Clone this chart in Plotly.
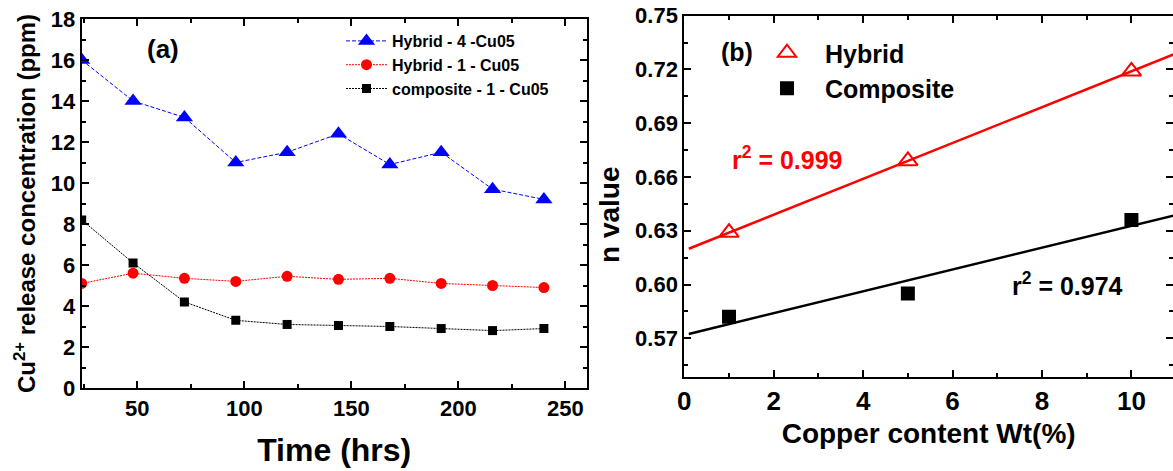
import numpy as np
import plotly.graph_objects as go

# ---------- Data ----------
time_hrs = [24, 48, 72, 96, 120, 144, 168, 192, 216, 240]
hybrid4 = [16.0, 14.0, 13.2, 11.0, 11.5, 12.4, 10.9, 11.5, 9.7, 9.2]
hybrid1 = [5.1, 5.6, 5.35, 5.2, 5.45, 5.3, 5.35, 5.1, 5.0, 4.9]
composite1 = [8.2, 6.1, 4.2, 3.3, 3.1, 3.05, 3.0, 2.9, 2.8, 2.9]

cu_content = [1, 5, 10]
n_hybrid = [0.629, 0.669, 0.719]
n_composite = [0.582, 0.595, 0.636]
fit_x = [0.1, 11.0]

W, H = 1173, 471
FONT = "Liberation Sans, Arial, sans-serif"

def px_x(p):
    return p / W

def px_y(p):
    return 1 - p / H

fig = go.Figure()

# ---------- Panel (a) ----------
fig.add_trace(go.Scatter(
    x=time_hrs, y=hybrid4, mode="lines+markers", name="Hybrid - 4 -Cu05",
    line=dict(color="#0000ff", width=1, dash="4px,2px"),
    marker=dict(symbol="triangle-up", size=15, color="#0000ff"),
    xaxis="x", yaxis="y", legend="legend"))
fig.add_trace(go.Scatter(
    x=time_hrs, y=hybrid1, mode="lines+markers", name="Hybrid - 1 - Cu05",
    line=dict(color="#ff0000", width=1, dash="2px,1px"),
    marker=dict(symbol="circle", size=11, color="#ff0000"),
    xaxis="x", yaxis="y", legend="legend"))
fig.add_trace(go.Scatter(
    x=time_hrs, y=composite1, mode="lines+markers", name="composite - 1 - Cu05",
    line=dict(color="#000000", width=1, dash="2px,1px"),
    marker=dict(symbol="square", size=9, color="#000000"),
    xaxis="x", yaxis="y", legend="legend"))

# ---------- Panel (b) ----------
ph = np.polyfit(cu_content, n_hybrid, 1)
pc = np.polyfit(cu_content, n_composite, 1)
fx = np.array(fit_x)

fig.add_trace(go.Scatter(
    x=fx, y=np.polyval(ph, fx), mode="lines", showlegend=False,
    line=dict(color="#ff0000", width=2.5), xaxis="x2", yaxis="y2"))
fig.add_trace(go.Scatter(
    x=fx, y=np.polyval(pc, fx), mode="lines", showlegend=False,
    line=dict(color="#000000", width=2.5), xaxis="x2", yaxis="y2"))
fig.add_trace(go.Scatter(
    x=cu_content, y=n_hybrid, mode="markers", name="Hybrid",
    marker=dict(symbol="triangle-up-open", size=17, color="#ff0000",
                line=dict(width=2, color="#ff0000")),
    xaxis="x2", yaxis="y2", legend="legend2", legendgroup="h"))
fig.add_trace(go.Scatter(
    x=cu_content, y=n_composite, mode="markers", name="Composite",
    marker=dict(symbol="square", size=14, color="#000000"),
    xaxis="x2", yaxis="y2", legend="legend2", legendgroup="c"))

axis_common = dict(
    showline=True, linecolor="black", linewidth=2, mirror="ticks",
    ticks="inside", ticklen=7, tickwidth=1.5, tickcolor="black",
    showgrid=False, zeroline=False, automargin=False,
)

def minor(dtick, tick0):
    return dict(ticks="inside", ticklen=4, dtick=dtick, tick0=tick0,
                tickcolor="black", tickwidth=1.5)

def anno(text, x, y, size, color="black", angle=0):
    return dict(text=text, x=px_x(x), y=px_y(y), xref="paper", yref="paper",
                xanchor="center", yanchor="middle", showarrow=False, textangle=angle,
                font=dict(size=size, family=FONT, weight="bold", color=color))

fig.update_layout(
    width=W, height=H, template="none",
    paper_bgcolor="white", plot_bgcolor="white",
    margin=dict(l=0, r=0, t=0, b=0),
    font=dict(family=FONT, color="black", weight="bold"),
    xaxis=dict(
        **axis_common,
        domain=[px_x(81.7), px_x(586.7)], anchor="y",
        range=[24, 260], tick0=0, dtick=50, minor=minor(25, 0),
        tickfont=dict(size=22, family=FONT, weight="bold"),
        title=dict(text="Time (hrs)", font=dict(size=32, family=FONT, weight="bold"), standoff=18),
    ),
    yaxis=dict(
        **axis_common,
        domain=[px_y(388), px_y(19)], anchor="x",
        range=[0, 18], tick0=0, dtick=2, minor=minor(1, 0),
        tickfont=dict(size=22, family=FONT, weight="bold"),
        title=dict(text="Cu<sup>2+</sup> release concentration (ppm)",
                   font=dict(size=24, family=FONT, weight="bold"), standoff=8),
    ),
    xaxis2=dict(
        **axis_common,
        domain=[px_x(684.3), 1.0], anchor="y2",
        range=[0, 10.93], tick0=0, dtick=2, minor=minor(1, 0),
        tickfont=dict(size=26, family=FONT, weight="bold"),
        title=dict(text="Copper content Wt(%)", font=dict(size=28, family=FONT, weight="bold"), standoff=8),
    ),
    yaxis2=dict(
        **axis_common,
        domain=[px_y(376.7), px_y(15.7)], anchor="x2",
        range=[0.5486, 0.75], tick0=0.57, dtick=0.03, tickformat=".2f",
        minor=minor(0.015, 0.57),
        tickfont=dict(size=22, family=FONT, weight="bold"),
    ),
    legend=dict(
        x=px_x(341), y=px_y(24), xanchor="left", yanchor="top",
        bgcolor="rgba(0,0,0,0)", borderwidth=0,
        font=dict(size=16, family=FONT, weight="bold"),
        itemwidth=41, tracegroupgap=0,
    ),
    legend2=dict(
        x=px_x(749), y=px_y(30), xanchor="left", yanchor="top",
        bgcolor="rgba(0,0,0,0)", borderwidth=0,
        font=dict(size=25, family=FONT, weight="bold"),
        itemwidth=66, tracegroupgap=0,
    ),
    annotations=[
        anno("(a)", 163, 49, 26),
        anno("(b)", 737, 52, 25),
        anno("r<sup>2</sup> = 0.999", 787, 158, 25, "#ff0000"),
        anno("r<sup>2</sup> = 0.974", 1067, 284, 25),
        anno("n value", 609, 215, 28, angle=-90),
    ],
)

fig.write_html("out.html")
